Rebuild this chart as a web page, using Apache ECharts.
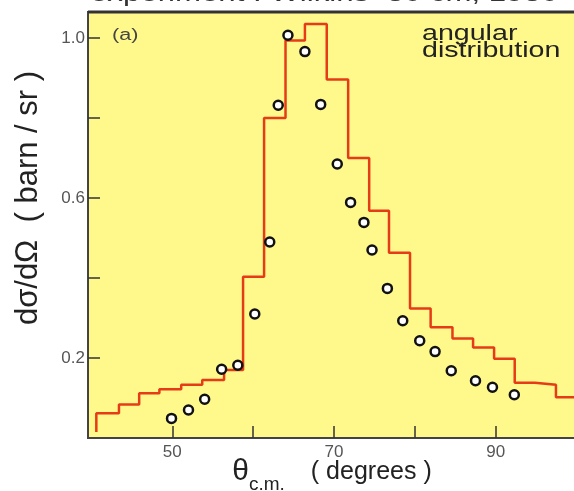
<!DOCTYPE html>
<html>
<head>
<meta charset="utf-8">
<script src="https://cdn.jsdelivr.net/npm/echarts@6/dist/echarts.min.js"></script>
<style>
  html, body { margin: 0; padding: 0; background: #fff; }
  #chart { width: 574px; height: 491px; }
</style>
</head>
<body>
<div id="chart"></div>
<script>
  // histogram (red step line): left edge of each bin and its height
  var binEdges = [40.6, 43.4, 45.9, 48.4, 51.1, 53.7, 56.4, 58.75, 61.35, 64.0, 66.4, 69.1,
    71.75, 74.35, 76.8, 79.4, 81.95, 84.65, 87.2, 89.8, 92.35, 94.85, 97.45];
  var binValues = [0.062, 0.084, 0.112, 0.122, 0.133, 0.145, 0.17, 0.403, 0.80, 0.994, 1.035, 0.896,
    0.70, 0.568, 0.463, 0.324, 0.277, 0.249, 0.226, 0.198, 0.138, 0.133, 0.102];
  var histEnd = 99.9;

  // measured points (open circles)
  var pointX = [49.9, 52.0, 54.0, 56.1, 58.1, 60.2, 62.05, 63.1, 64.3, 66.4, 68.35, 70.4,
    72.05, 73.7, 74.7, 76.6, 78.5, 80.6, 82.5, 84.5, 87.5, 89.6, 92.3];
  var pointY = [0.049, 0.07, 0.097, 0.172, 0.182, 0.31, 0.49, 0.832, 1.007, 0.966, 0.834, 0.685,
    0.589, 0.539, 0.47, 0.374, 0.293, 0.243, 0.216, 0.168, 0.143, 0.127, 0.108];

  // axis ticks
  var xTicks = [50, 60, 70, 80, 90];
  var xLabels = [50, 70, 90];
  var yTicks = [0.2, 0.4, 0.6, 0.8, 1.0];
  var yLabels = [0.2, 0.6, 1.0];

  var stepData = [[binEdges[0], 0.015]];
  for (var i = 0; i < binEdges.length; i++) {
    stepData.push([binEdges[i], binValues[i]]);
  }
  stepData.push([histEnd, binValues[binValues.length - 1]]);

  var pointData = [];
  for (var j = 0; j < pointX.length; j++) {
    pointData.push([pointX[j], pointY[j]]);
  }

  var font = 'Liberation Sans';
  var chart = echarts.init(document.getElementById('chart'));
  chart.setOption({
    animation: false,
    grid: {
      left: 88, top: 12, right: -2, bottom: 53,
      containLabel: false,
      outerBoundsMode: 'none',
      show: true,
      backgroundColor: '#FFF98C',
      borderColor: '#333',
      borderWidth: 2
    },
    xAxis: {
      type: 'value',
      min: 39.57,
      max: 99.93,
      name: '{t|θ}{s|c.m.}{n|( degrees )}',
      nameLocation: 'middle',
      nameGap: 12,
      nameMoveOverlap: false,
      nameTextStyle: {
        rich: {
          t: {fontFamily: font, fontSize: 30, color: '#222', lineHeight: 44, verticalAlign: 'middle'},
          s: {fontFamily: font, fontSize: 19, color: '#222', lineHeight: 40, verticalAlign: 'bottom'},
          n: {fontFamily: font, fontSize: 25, color: '#222', lineHeight: 44, verticalAlign: 'middle', padding: [0, 0, 0, 26]}
        }
      },
      axisLine: {show: true, lineStyle: {color: '#444', width: 2}},
      axisTick: {show: true, inside: true, length: 12, customValues: xTicks, lineStyle: {color: '#333', width: 1.5}},
      axisLabel: {customValues: xLabels, margin: 6, fontFamily: font, fontSize: 17, color: '#555'},
      splitLine: {show: false}
    },
    yAxis: {
      type: 'value',
      min: 0,
      max: 1.065,
      name: 'dσ/dΩ  ( barn / sr )',
      nameLocation: 'middle',
      nameRotate: 90,
      nameGap: 44,
      nameMoveOverlap: false,
      nameTextStyle: {fontFamily: font, fontSize: 31, color: '#222', padding: [0, 0, 0, 54]},
      axisLine: {show: true, lineStyle: {color: '#444', width: 2}},
      axisTick: {show: true, inside: true, length: 12, customValues: yTicks, lineStyle: {color: '#333', width: 1.5}},
      axisLabel: {
        customValues: yLabels, margin: 3, fontFamily: font, fontSize: 17, color: '#555',
        formatter: function (v) { return v.toFixed(1); }
      },
      splitLine: {show: false}
    },
    graphic: [
      // title line, mostly cut off by the top edge
      {type: 'text', x: 90, y: 6, scaleX: 1.3,
        style: {text: 'experiment : Wilkins  30 cm, 1930', fontFamily: font, fontSize: 24, fill: '#333', verticalAlign: 'bottom'}},
      {type: 'line', shape: {x1: 88, y1: 12, x2: 574, y2: 12}, style: {stroke: '#333', lineWidth: 3}, z: 10},
      {type: 'text', x: 112, y: 28, scaleX: 1.35,
        style: {text: '(a)', fontFamily: font, fontSize: 16, fill: '#444'}},
      {type: 'text', x: 422, y: 25, scaleX: 1.3,
        style: {text: 'angular\ndistribution', fontFamily: font, fontSize: 22, lineHeight: 17, fill: '#222'}}
    ],
    series: [
      {
        name: 'histogram',
        type: 'line',
        step: 'end',
        data: stepData,
        showSymbol: false,
        lineStyle: {color: '#E63B17', width: 2.5},
        z: 2
      },
      {
        name: 'data',
        type: 'scatter',
        data: pointData,
        symbol: 'circle',
        symbolSize: 9,
        itemStyle: {color: '#fff', borderColor: '#111', borderWidth: 2.5, opacity: 1},
        z: 3
      }
    ]
  });
</script>
</body>
</html>
